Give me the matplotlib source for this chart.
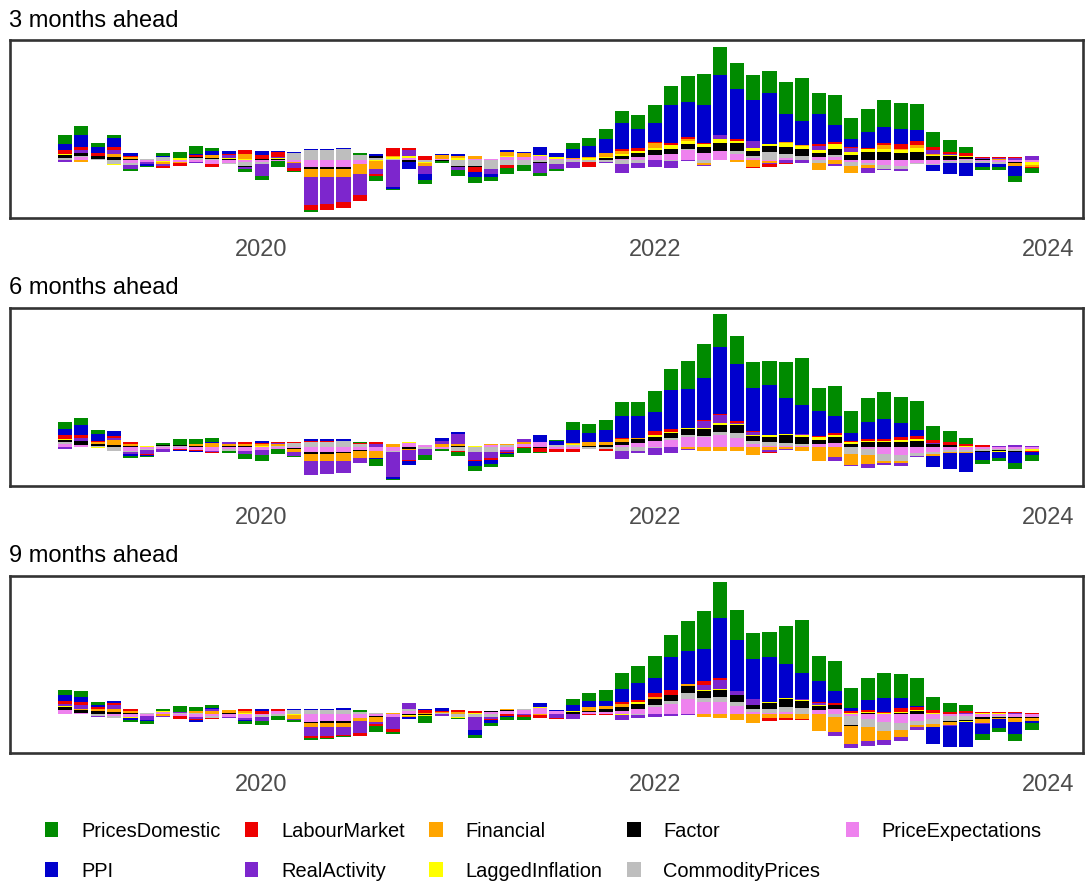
import matplotlib
matplotlib.use("Agg")
import matplotlib.pyplot as plt
from matplotlib.patches import Rectangle
import numpy as np

plt.rcParams['font.family'] = ['Liberation Sans', 'DejaVu Sans']

# ---------------- data (monthly, Jan 2019 .. Dec 2023; contributions, arbitrary units) ----
start_year = 2019
n_months = 60
tick_years = [2020, 2022, 2024]
tick_labels = ["2020", "2022", "2024"]
horizons = ["3 months ahead", "6 months ahead", "9 months ahead"]

series_names = ["PricesDomestic", "PPI", "LabourMarket", "RealActivity", "Financial",
                "LaggedInflation", "Factor", "CommodityPrices", "PriceExpectations"]
series_colors = ["#008B00", "#0000CD", "#EE0000", "#7D26CD", "#FFA500",
                 "#FFFF00", "#000000", "#BEBEBE", "#EE82EE"]

# ---- 3 months ahead ----
prices_domestic_3m = [27,27,12,9,-6,-3,9,18,24,9, 0,-9,-12,-18,-3,-5,0,0,6,-15, -3,0,-12,-6,-18,-18,-12,-18,-18,-9, -6,18,24,30,36,42,54,57,78,93, 85,78,75,66,96,129,63,90,63,69, 81,78,78,45,36,18,-9,-9,-18,-15]
ppi_3m = [18,36,18,27,9,-6,3,0,3,12, 9,0,12,3,3,3,3,3,0,6, -6,-21,-18,3,6,-15,-9,6,3,24, 12,27,33,42,78,57,57,114,105,114, 180,150,123,153,84,72,90,51,24,48, 48,45,33,-18,-33,-39,-12,-9,-30,0]
labour_market_3m = [12,9,9,9,3,0,-6,-9,6,-9, 3,12,12,15,-9,-15,-19,-18,-18,-6, 24,6,12,0,0,-15,0,-9,0,0, 0,0,-15,0,6,9,3,6,6,3, 0,6,-3,-9,-3,0,6,6,3,3, 6,15,12,9,6,9,3,3,3,-3]
real_activity_3m = [-6,9,0,12,-12,-6,-6,0,-3,0, 9,-6,-36,3,-15,-84,-80,-74,-63,-15, -81,18,-24,0,-9,0,-15,0,0,-30, -15,-18,0,-3,-27,-15,-21,-21,-3,-3, 12,0,21,-3,-9,-9,12,-6,12,-15, -3,-6,0,12,3,0,3,3,6,12]
financial_3m = [0,-6,2,9,6,0,-6,-3,0,9, 0,15,0,0,-3,-24,-24,-24,-30,-24, 3,0,-9,12,6,9,0,12,12,0, 0,3,3,12,9,0,15,0,6,-6, 0,-6,-21,-6,3,3,-21,-12,-21,-9, 12,3,9,3,0,0,0,3,-9,-6]
lagged_inflation_3m = [2,0,0,-3,0,0,-2,6,0,0, 2,3,2,3,0,0,0,0,0,-3, 6,6,-3,0,6,0,0,3,0,3, 6,0,6,3,6,6,6,12,9,9, 12,6,9,6,12,9,9,15,9,9, 9,9,12,3,3,3,0,0,0,-9]
factor_3m = [9,9,8,9,3,0,0,0,3,3, 3,-3,2,3,0,-6,-6,-6,0,6, 0,-6,0,-3,-3,-3,0,0,0,-3, 0,0,0,6,9,12,15,15,15,18, 24,24,15,18,21,21,12,18,15,24, 24,21,24,12,12,6,3,0,-3,0]
commodity_prices_3m = [6,2,3,-12,-6,3,9,0,6,3, -3,-12,-6,0,21,30,30,33,15,6, 3,0,-6,0,-18,-18,-27,-15,-15,-6, -12,-6,-6,-6,-12,-9,0,-3,3,-9, 0,9,6,24,12,12,-9,6,-12,-6, -12,-9,-3,-3,-6,-9,-6,-6,0,0]
price_expectations_3m = [0,10,0,0,-9,-6,-4,-6,-6,-12, -9,-6,-6,-3,-6,-21,-21,-21,-12,0, 0,6,0,3,0,3,3,9,9,12, 3,3,0,0,3,9,15,18,30,21, 27,18,6,-3,6,0,9,9,-6,-9, -15,-18,-9,-12,-3,3,-3,-6,-6,-6]

# ---- 6 months ahead ----
prices_domestic_6m = [21,21,12,0,-6,-3,6,18,15,12, -6,-15,-18,-15,-3,0,0,0,3,-21, -3,0,-15,-6,-12,-15,-9,-9,-15,-3, 3,24,27,30,42,42,63,63,84,102, 98,84,78,72,108,141,69,90,66,72, 81,78,87,42,33,18,-12,-9,-18,-18]
ppi_6m = [18,30,21,15,-6,-3,0,-3,-3,3, 0,0,6,0,0,6,6,6,0,-3, -6,-12,0,9,6,-15,-12,-3,0,21, 12,39,27,36,66,66,57,117,117,126, 202,171,129,150,108,87,75,51,24,51, 60,42,18,-33,-48,-57,-24,-18,-33,-9]
labour_market_6m = [12,9,3,6,6,-3,0,-3,-3,-3, 0,6,3,3,3,3,3,0,3,6, 0,-3,0,0,-3,-3,-6,-3,-3,-12, -9,-9,0,-6,3,0,12,9,0,3, 3,6,3,-3,0,0,3,6,3,6, 6,9,9,9,9,6,6,0,0,-3]
real_activity_6m = [-6,9,0,6,-6,-12,-9,0,0,-3, 6,-9,-15,3,-12,-42,-39,-36,-15,9, -75,-30,-18,9,30,-24,-18,-6,9,0, 0,0,0,0,-24,-6,-21,-18,-3,21, 24,3,9,-6,-3,3,0,-12,-3,-12, -6,-9,-3,3,0,0,0,3,6,3]
financial_6m = [0,0,6,15,6,0,0,0,6,12, 6,6,6,6,-9,-21,-21,-24,-21,-21, 9,-3,0,9,6,0,3,3,6,0, 0,3,12,9,9,3,0,0,-6,-12, -12,-12,-24,-9,-6,-12,-42,-30,-33,-27, -6,-6,0,-6,-3,-3,0,0,0,0]
lagged_inflation_6m = [3,0,-3,0,0,3,0,0,0,0, 0,0,3,0,0,0,0,0,0,0, 0,3,0,0,0,3,0,0,0,0, 0,3,0,0,0,0,6,3,3,3, 6,3,3,6,3,6,9,6,6,3, 3,6,6,0,0,3,0,-3,0,-6]
factor_6m = [6,12,6,6,3,0,3,3,3,0, 3,3,0,0,-3,-6,-6,-3,-3,0, 0,-6,0,0,3,0,0,0,0,-3, 0,0,3,6,9,12,12,15,18,21, 21,24,15,15,24,21,12,18,9,15, 15,15,18,9,6,0,-3,-3,-3,0]
commodity_prices_6m = [6,0,3,-12,-3,-3,3,3,0,0, -6,0,0,3,12,15,15,18,9,0, -3,0,-6,0,-12,-15,-15,6,0,0, 6,6,-6,-6,-12,-12,-3,6,6,3, 9,15,9,12,9,6,0,0,-21,-18, -21,-18,-9,-6,-6,-6,-6,-3,-6,0]
price_expectations_6m = [9,6,0,0,-12,-6,-6,-6,-9,-12, -6,-12,-9,-6,-3,-15,-15,-15,-9,-12, -12,12,6,-6,0,0,6,-9,9,15, -6,-6,0,0,6,12,18,21,30,30, 36,27,9,3,3,3,9,12,0,-6, -21,-24,-18,-15,-9,-9,-6,-6,-6,-6]

# ---- 9 months ahead ----
prices_domestic_9m = [15,18,9,0,-6,-9,6,18,12,9, 0,-9,-12,-12,-6,-6,-3,-3,6,-18, -6,0,-21,0,-3,-9,-9,-9,-9,0, 0,18,24,33,48,51,66,66,90,114, 109,90,78,75,114,159,75,90,60,66, 75,72,84,39,27,18,-18,-12,-21,-21]
ppi_9m = [18,15,6,6,-6,-3,0,0,-6,3, 0,-3,6,0,3,3,3,6,0,0, 0,-6,3,9,0,-15,-9,-3,0,12, 3,18,18,15,39,51,45,99,99,96, 180,153,120,135,102,78,63,36,9,30, 42,30,3,-51,-63,-75,-30,-27,-36,-6]
labour_market_9m = [9,9,6,6,6,0,0,-9,-3,-3, 0,6,9,6,0,-6,-6,-3,-9,-6, -9,0,9,3,6,6,-3,-6,-6,-9, -3,0,-3,-3,6,6,12,15,0,12, 6,0,0,-9,-6,-3,3,6,6,6, 3,12,9,9,6,6,3,3,3,3]
real_activity_9m = [6,12,-3,12,0,-12,-3,3,-6,6, -3,-6,-12,0,-3,-27,-27,-24,-36,-6, -36,18,0,-6,0,-39,-6,0,-3,0, -12,-15,0,0,-15,-9,-9,-6,-3,15, 27,12,18,0,0,3,6,-12,-12,-15, -15,-12,-9,0,-3,3,-3,0,3,0]
financial_9m = [0,3,6,9,6,0,-6,0,6,9, 9,6,0,0,-12,-12,-12,-12,-9,-15, 3,-3,3,3,6,0,0,3,0,-3, 0,0,12,9,9,0,6,0,6,-9, -12,-18,-27,-12,-12,-15,-51,-45,-54,-42, -27,-21,-6,-9,-9,0,-12,-3,-12,-9]
lagged_inflation_9m = [3,0,0,0,-3,0,3,0,0,0, 0,3,0,0,-3,0,0,0,0,0, 0,-3,-3,0,-3,3,0,0,0,3, 0,3,0,0,-3,6,0,0,0,3, 3,0,0,3,3,3,3,0,3,3, 3,3,3,3,0,-3,3,3,0,0]
factor_9m = [9,9,9,6,3,0,0,0,0,0, 3,0,0,0,0,-3,-6,-6,0,-3, 0,-3,-3,0,0,0,3,3,0,0, 0,6,3,9,12,15,18,18,21,21, 21,21,12,18,24,21,12,12,-3,3, 0,3,9,0,-3,-3,-6,-3,-3,-3]
commodity_prices_9m = [0,0,-6,-6,0,3,0,3,3,-6, 0,0,-6,-6,12,12,12,12,6,3, 0,6,0,3,-9,-9,-9,0,3,0, 0,0,0,0,0,-3,6,9,18,12, 15,12,9,12,15,18,0,-9,-27,-24, -27,-21,-12,-15,-15,-12,0,-3,0,0]
price_expectations_9m = [12,3,0,-6,-9,-6,6,-6,-9,-6, -9,-12,-3,9,0,-24,-21,-21,-12,-6, -9,9,0,0,0,0,6,9,12,18, 9,0,6,6,9,15,21,30,45,36, 36,24,6,3,6,0,12,15,-6,-15, -24,-27,-21,-15,-6,-6,-9,-6,-9,-9]

panel_data = [
    [prices_domestic_3m, ppi_3m, labour_market_3m, real_activity_3m, financial_3m,
     lagged_inflation_3m, factor_3m, commodity_prices_3m, price_expectations_3m],
    [prices_domestic_6m, ppi_6m, labour_market_6m, real_activity_6m, financial_6m,
     lagged_inflation_6m, factor_6m, commodity_prices_6m, price_expectations_6m],
    [prices_domestic_9m, ppi_9m, labour_market_9m, real_activity_9m, financial_9m,
     lagged_inflation_9m, factor_9m, commodity_prices_9m, price_expectations_9m],
]

# ---------------- layout ----------------
W, H = 1087, 883
fig = plt.figure(figsize=(W / 100, H / 100), dpi=100)
fig.patch.set_facecolor("white")

left_px, right_px = 10.4, 1083.3
panel_tops = [40.3, 308.0, 575.7]
panel_h = 177.7
ylims = [(-174, 359), (-116, 417), (-118, 415)]
title_baselines = [26.6, 294.3, 562.0]

x = np.arange(n_months)
tick_pos = [(y - start_year) * 12 for y in tick_years]

for k in range(3):
    top = panel_tops[k]
    ax = fig.add_axes([left_px / W, 1 - (top + panel_h) / H,
                       (right_px - left_px) / W, panel_h / H])
    pos_base = np.zeros(n_months)
    neg_base = np.zeros(n_months)
    # stack from zero outward: last legend entry closest to zero
    for name, col, vals in reversed(list(zip(series_names, series_colors, panel_data[k]))):
        v = np.array(vals, dtype=float)
        pos = np.where(v > 0, v, 0.0)
        neg = np.where(v < 0, v, 0.0)
        ax.bar(x, pos, bottom=pos_base, width=0.86, color=col, linewidth=0)
        ax.bar(x, neg, bottom=neg_base, width=0.86, color=col, linewidth=0)
        pos_base += pos
        neg_base += neg
    ax.set_xlim(-3.33, 62.15)
    ax.set_ylim(*ylims[k])
    ax.set_yticks([])
    ax.set_xticks(tick_pos)
    ax.set_xticklabels(tick_labels)
    ax.tick_params(axis="x", length=0, pad=15.0, labelsize=17, labelcolor="#4D4D4D")
    for sp in ax.spines.values():
        sp.set_color("#333333")
        sp.set_linewidth(1.9)
    fig.text(8.6 / W, 1 - title_baselines[k] / H, horizons[k], fontsize=17,
             color="black", va="baseline", ha="left")

# ---------------- legend ----------------
col_key_x = [45.0, 245.0, 429.4, 627.2, 845.5]
row_baselines = [836.7, 876.7]
key_w, key_h = 13.3, 14.4
for idx, (name, col) in enumerate(zip(series_names, series_colors)):
    c = idx // 2
    r = idx % 2
    kx = col_key_x[c]
    base = row_baselines[r]
    fig.add_artist(Rectangle((kx / W, 1 - base / H), key_w / W, key_h / H,
                             transform=fig.transFigure, facecolor=col,
                             edgecolor="none"))
    fig.text((kx + 36.3) / W, 1 - base / H, name, fontsize=14.4, color="black",
             va="baseline", ha="left")

fig.savefig("out.png", dpi=100, facecolor="white")
